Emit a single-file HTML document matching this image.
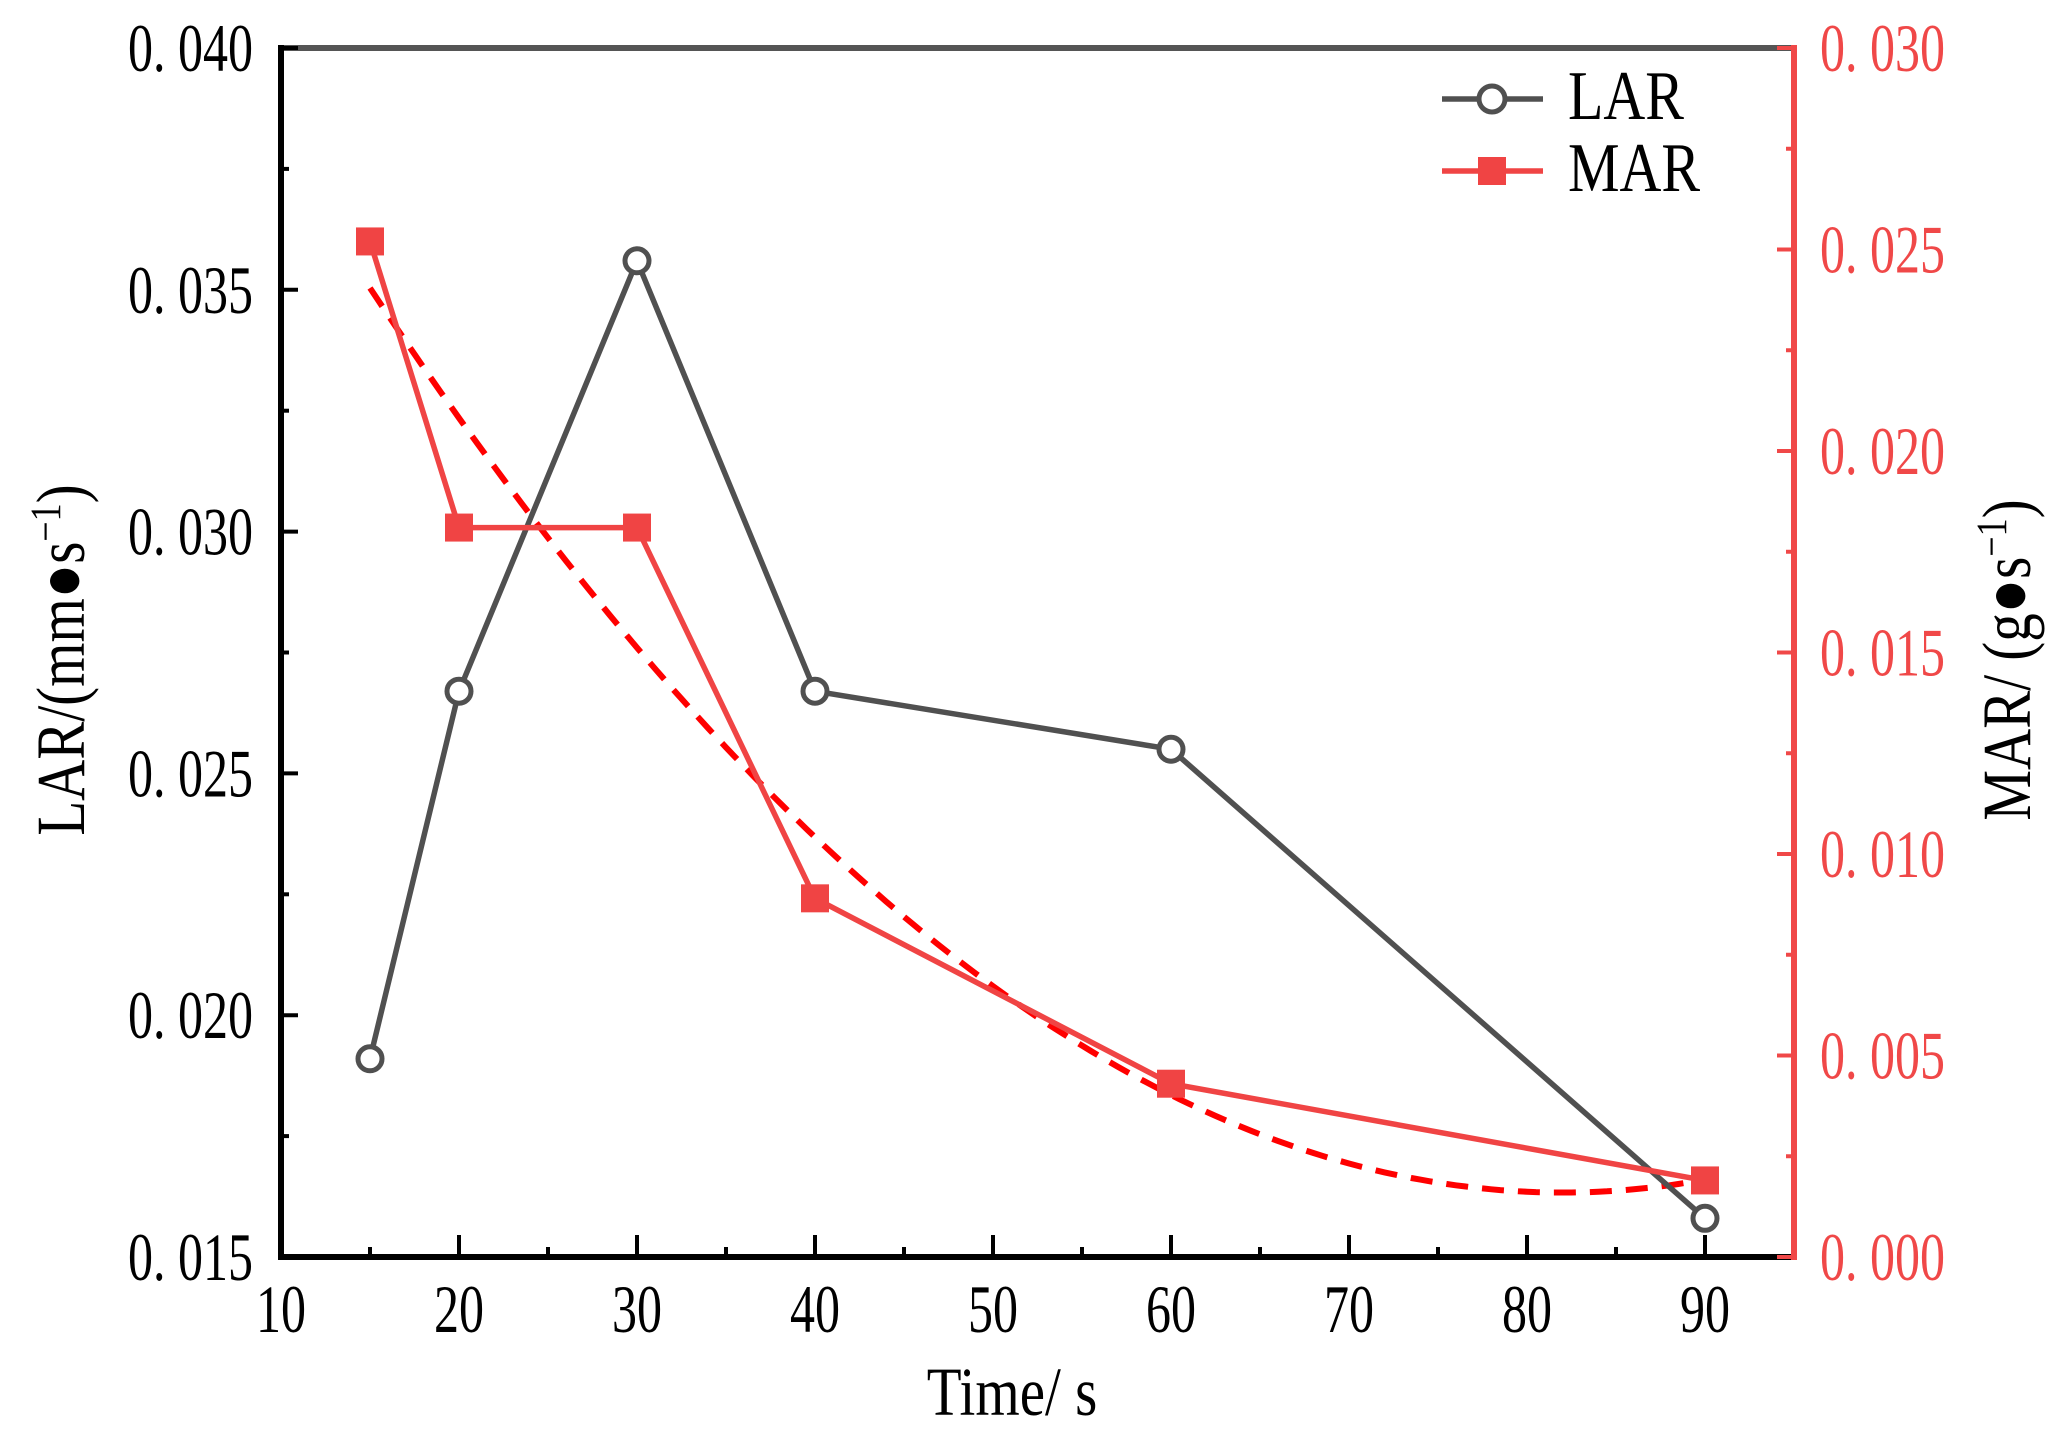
<!DOCTYPE html>
<html><head><meta charset="utf-8"><style>
html,body{margin:0;padding:0;background:#fff;}
svg text{font-family:"Liberation Serif","Noto Serif CJK SC",serif;}
</style></head><body>
<svg id="chart" width="2068" height="1450" viewBox="0 0 2068 1450" xmlns="http://www.w3.org/2000/svg"></svg>
<script>
const times = [15, 20, 30, 40, 60, 90];
const larValues = [0.0191, 0.0267, 0.0356, 0.0267, 0.0255, 0.0158];
const marValues = [0.0252, 0.0181, 0.0181, 0.0089, 0.0043, 0.0019];
const fitCoef = [0.0000050, 82, 0.0016]; // a, vertex x, vertex y
const xTicks = [10, 20, 30, 40, 50, 60, 70, 80, 90];
const leftTicks = ["0.015", "0.020", "0.025", "0.030", "0.035", "0.040"];
const rightTicks = ["0.000", "0.005", "0.010", "0.015", "0.020", "0.025", "0.030"];

const svg = document.getElementById('chart');
const NS = 'http://www.w3.org/2000/svg';
const X0 = 281, X1 = 1794, Y0 = 1257, Y1 = 48;
const xs = v => X0 + (v - 10) / 10 * 178;
const yl = v => Y0 - (v - 0.015) / 0.025 * (Y0 - Y1);
const yr = v => Y0 - v / 0.030 * (Y0 - Y1);
function mk(tag, attrs, parent) {
  const e = document.createElementNS(NS, tag);
  for (const k in attrs) e.setAttribute(k, attrs[k]);
  (parent || svg).appendChild(e);
  return e;
}
const sp = s => s.replace('.', '. ');
function txt(x, y, size, sy, anchor, fill, parent) {
  return mk('text', {x: 0, y: 0, 'font-size': size, 'text-anchor': anchor, fill: fill,
    transform: 'translate(' + x + ',' + y + ') scale(1,' + sy + ')'}, parent);
}

// frame
let e = mk('line', {x1: X0, y1: Y1, x2: X1, y2: Y1, stroke: '#555', 'stroke-width': 6});
 
e = mk('line', {x1: X0, y1: Y1 - 3, x2: X0, y2: Y0 + 3, stroke: '#000', 'stroke-width': 6});
 
e = mk('line', {x1: X0 - 3, y1: Y0, x2: X1, y2: Y0, stroke: '#000', 'stroke-width': 6});
 
e = mk('line', {x1: X1, y1: Y1 - 3, x2: X1, y2: Y0 + 3, stroke: '#F04848', 'stroke-width': 6});
 

// x ticks
xTicks.forEach((t, i) => {
  const x = xs(t);
  let l = mk('line', {x1: x, y1: Y0, x2: x, y2: Y0 - 22, stroke: '#000', 'stroke-width': 4});
   
  if (i < xTicks.length - 1) {
    const m = xs(t + 5);
    l = mk('line', {x1: m, y1: Y0, x2: m, y2: Y0 - 10, stroke: '#000', 'stroke-width': 4});
     
  }
  const tx = txt(x, 1332, 50, 1.35, 'middle', '#000');
  tx.textContent = t;
   
});
// left ticks
leftTicks.forEach((t, i) => {
  const v = parseFloat(t), y = yl(v);
  let l = mk('line', {x1: X0, y1: y, x2: X0 + 17, y2: y, stroke: '#000', 'stroke-width': 4});
   
  if (i < leftTicks.length - 1) {
    const m = yl(v + 0.0025);
    l = mk('line', {x1: X0, y1: m, x2: X0 + 8, y2: m, stroke: '#000', 'stroke-width': 4});
     
  }
  const tx = txt(253, y + 23, 50, 1.35, 'end', '#000');
  tx.textContent = sp(t);
   
});
// right ticks
rightTicks.forEach((t, i) => {
  const v = parseFloat(t), y = yr(v);
  let l = mk('line', {x1: X1, y1: y, x2: X1 - 17, y2: y, stroke: '#F04848', 'stroke-width': 4});
   
  if (i < rightTicks.length - 1) {
    const m = yr(v + 0.0025);
    l = mk('line', {x1: X1, y1: m, x2: X1 - 8, y2: m, stroke: '#F04848', 'stroke-width': 4});
     
  }
  const tx = txt(1820, y + 23, 50, 1.35, 'start', '#F04848');
  tx.textContent = sp(t);
   
});

// fit dashed curve
let d = '';
for (let x = 15; x <= 90; x += 0.5) {
  const v = fitCoef[0] * (x - fitCoef[1]) * (x - fitCoef[1]) + fitCoef[2];
  d += (d ? 'L' : 'M') + xs(x).toFixed(1) + ',' + yr(v).toFixed(1);
}
e = mk('path', {d: d, fill: 'none', stroke: '#FF0000', 'stroke-width': 6, 'stroke-dasharray': '22 14'});
 

// LAR line
e = mk('polyline', {points: times.map((t, i) => xs(t) + ',' + yl(larValues[i])).join(' '), fill: 'none', stroke: '#505050', 'stroke-width': 5.5});
 
// MAR line
e = mk('polyline', {points: times.map((t, i) => xs(t) + ',' + yr(marValues[i])).join(' '), fill: 'none', stroke: '#F04444', 'stroke-width': 5.5});
 
times.forEach((t, i) => {
  const c = mk('circle', {cx: xs(t), cy: yl(larValues[i]), r: 12, fill: '#fff', stroke: '#505050', 'stroke-width': 5});
   
  const r = mk('rect', {x: xs(t) - 14, y: yr(marValues[i]) - 14, width: 28, height: 28, fill: '#F04444'});
   
});

// legend
const lg = mk('g', {});
 
e = mk('line', {x1: 1442, y1: 99, x2: 1543, y2: 99, stroke: '#505050', 'stroke-width': 5.5}, lg);
 
e = mk('circle', {cx: 1492, cy: 99, r: 13, fill: '#fff', stroke: '#505050', 'stroke-width': 5}, lg);
 
e = txt(1568, 119, 58, 1.2, 'start', '#000', lg); e.textContent = 'LAR';
 
e = mk('line', {x1: 1442, y1: 171, x2: 1543, y2: 171, stroke: '#F04444', 'stroke-width': 5.5}, lg);
 
e = mk('rect', {x: 1478, y: 157, width: 28, height: 28, fill: '#F04444'}, lg);
 
e = txt(1568, 191, 58, 1.2, 'start', '#000', lg); e.textContent = 'MAR';
 

// axis titles
e = txt(1012, 1415, 57, 1.2, 'middle', '#000'); e.textContent = 'Time/ s';
 
e = mk('text', {x: 0, y: 0, 'font-size': 57, 'text-anchor': 'middle', fill: '#000', transform: 'translate(84,660) rotate(-90) scale(1,1.2)'});
e.innerHTML = 'LAR/(mm●s<tspan dy="-20" font-size="36">−1</tspan><tspan dy="20">)</tspan>';
 
e = mk('text', {x: 0, y: 0, 'font-size': 57, 'text-anchor': 'middle', fill: '#000', transform: 'translate(2030,660) rotate(-90) scale(1,1.2)'});
e.innerHTML = 'MAR/ (g●s<tspan dy="-20" font-size="36">−1</tspan><tspan dy="20">)</tspan>';
 
</script>
</body></html>
